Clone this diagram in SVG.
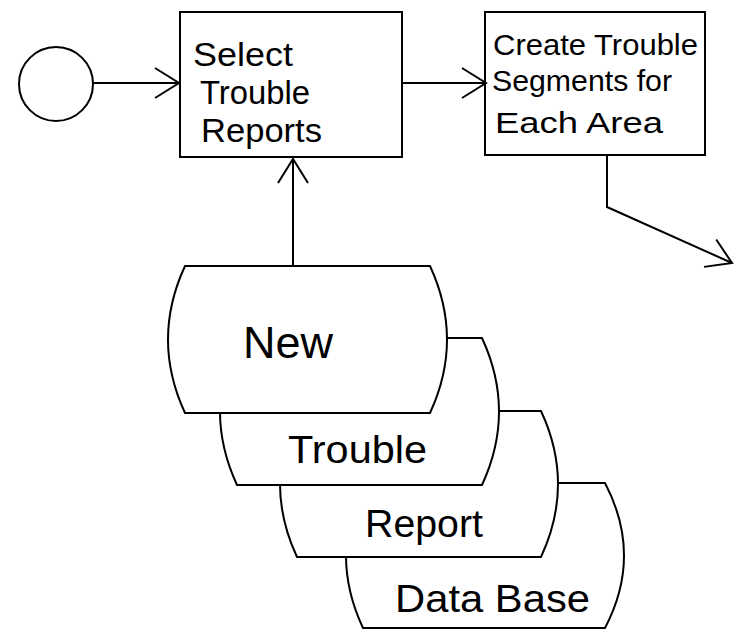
<svg xmlns="http://www.w3.org/2000/svg" width="739" height="636" viewBox="0 0 739 636">
  <style>
    .shape { fill: #ffffff; stroke: #000000; stroke-width: 2; }
    .edge { fill: none; stroke: #000000; stroke-width: 2; }
    .label { font-family: "Liberation Sans", "DejaVu Sans", sans-serif; fill: #000000; }
    .box { font-size: 33px; }
    .box2 { font-size: 30px; }
    .store { font-size: 38px; }
  </style>
  <defs>
    <marker id="chevron" viewBox="0 0 26 32" refX="25" refY="16" markerWidth="26" markerHeight="32" markerUnits="userSpaceOnUse" orient="auto" overflow="visible">
      <path d="M1,1 L25,16 L1,31" fill="none" stroke="#000000" stroke-width="2"/>
    </marker>
  </defs>

  <rect width="739" height="636" fill="#ffffff"/>

  <!-- start terminal -->
  <g id="start">
    <circle class="shape" cx="56" cy="84" r="37"/>
  </g>

  <!-- process: select trouble reports -->
  <g id="select-reports">
    <rect class="shape" x="180" y="12" width="222" height="145"/>
    <text class="label box" x="193" y="66" textLength="100" lengthAdjust="spacingAndGlyphs">Select</text>
    <text class="label box" x="200" y="104" textLength="110" lengthAdjust="spacingAndGlyphs">Trouble</text>
    <text class="label box" x="201" y="142" textLength="121" lengthAdjust="spacingAndGlyphs">Reports</text>
  </g>

  <!-- process: create trouble segments -->
  <g id="create-segments">
    <rect class="shape" x="485" y="12" width="220" height="143"/>
    <text class="label box2" x="493" y="55" textLength="205" lengthAdjust="spacingAndGlyphs">Create Trouble</text>
    <text class="label box2" x="492" y="91" textLength="180" lengthAdjust="spacingAndGlyphs">Segments for</text>
    <text class="label box2" x="495" y="133" textLength="168" lengthAdjust="spacingAndGlyphs">Each Area</text>
  </g>

  <!-- stacked data store, drawn back to front -->
  <g id="store-data-base">
    <path class="shape" d="M363,483 L605,483 Q643,555.5 605,628 L363,628 Q329,555.5 363,483 Z"/>
    <text class="label store" x="395" y="612" textLength="195" lengthAdjust="spacingAndGlyphs">Data Base</text>
  </g>
  <g id="store-report">
    <path class="shape" d="M297,411 L541,411 Q575,484 541,557 L297,557 Q263,484 297,411 Z"/>
    <text class="label store" x="365" y="537" textLength="118" lengthAdjust="spacingAndGlyphs">Report</text>
  </g>
  <g id="store-trouble">
    <path class="shape" d="M237,338 L482,338 Q516,411.5 482,485 L237,485 Q203,411.5 237,338 Z"/>
    <text class="label store" x="288" y="463" textLength="139" lengthAdjust="spacingAndGlyphs">Trouble</text>
  </g>
  <g id="store-new">
    <path class="shape" d="M185,266 L430,266 Q464,339.5 430,413 L185,413 Q151,339.5 185,266 Z"/>
    <text class="label" font-size="44" x="243" y="358" textLength="90" lengthAdjust="spacingAndGlyphs">New</text>
  </g>

  <!-- connectors -->
  <g id="connectors">
    <line class="edge" x1="93" y1="83" x2="179" y2="83" marker-end="url(#chevron)"/>
    <line class="edge" x1="402" y1="83" x2="486" y2="83" marker-end="url(#chevron)"/>
    <line class="edge" x1="293" y1="266" x2="293" y2="159" marker-end="url(#chevron)"/>
    <polyline class="edge" points="607,155 607,207 732,263" marker-end="url(#chevron)"/>
  </g>
</svg>
